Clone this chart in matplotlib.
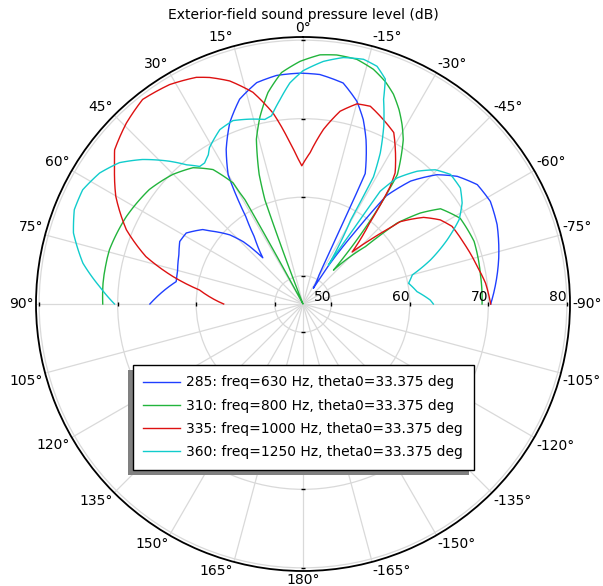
import numpy as np
import matplotlib
matplotlib.use("Agg")
import matplotlib.pyplot as plt
from matplotlib.patches import Rectangle
from matplotlib.transforms import IdentityTransform

# radial range of the plot (dB)
r_min, r_max = 46.4, 80.4
r_ticks = [50, 60, 70, 80]

# 285: freq=630 Hz
theta_630 = [90, 80, 75.5, 68.4, 63.1, 58.7, 53.4, 51.9, 46.6, 43.8, 42.8, 41, 36, 33.2, 30.1,
             26.4, 22, 17.2, 11.8, 6.6, 0.7, -4.2, -10.3, -14.9, -18.1, -21, -25.5, -26.3,
             -27.4, -28.6, -33.3, -33.6, -35.8, -37.6, -41.2, -46, -50.4, -55.6, -61.3,
             -67.8, -76.8, -90]
spl_630 = [65.9, 62.8, 62.9, 63.4, 64.0, 63.8, 62.3, 61.5, 59.2, 57.4, 56.4, 54.2, 56.9, 59.7, 65.4,
           68.4, 71.3, 73.7, 75.2, 75.7, 75.8, 75.7, 75.0, 73.1, 71.1, 68.8, 64.8, 56.7,
           52.7, 50.8, 48.8, 52.3, 57.7, 63.8, 67.2, 70.1, 71.9, 73.3, 73.6,
           73.1, 72.0, 70.3]

# 310: freq=800 Hz
theta_800 = [90, 84, 74.4, 63.7, 53.3, 45.2, 38.9, 33.8, 30.0, 29.6, 29.1, 28.8, 28.4, 21.5,
             20.6, 20.1, 18.7, 15.8, 12.9, 9.4, 5.3, 0.7, -3.9, -7.7, -12.4, -16.7, -20.3,
             -23.3, -26.3, -28.9, -31.4, -36.1, -38.5, -41, -42, -45, -47.4, -49.3, -52.2,
             -55.3, -61.4, -69.9, -80.7, -90]
spl_800 = [71.9, 72.0, 72.0, 71.5, 70.8, 69.8, 68.7, 67.0, 64.2, 62.7, 61.6, 55, 46, 46,
           55, 60.5, 63.8, 68.2, 70.9, 73.7, 76.0, 77.3, 78.2, 78.4, 78.3, 77.6, 76.6,
           75.5, 74.0, 72.5, 70.9, 66.8, 61, 54.5, 52.2, 55, 57.2, 62.2, 65.3,
           67.7, 69.2, 69.6, 69.3, 69.2]

# 335: freq=1000 Hz
theta_1000 = [90, 82.3, 78.1, 73.2, 67.2, 60.1, 53.9, 50.7, 44.3, 38.1, 31.3, 25.2, 22.4, 18.2,
              13.3, 8.9, 5.6, 2.4, 0.5, -2.7, -6.7, -10.9, -15.1, -18.8, -23.6, -27.9, -30.9,
              -35.1, -36.6, -39.3, -43.4, -46.3, -48.9, -49.7, -54.3, -58.5, -62.5, -69.3,
              -77.9, -83.5, -90]
spl_1000 = [56.5, 59.7, 63.3, 67.3, 70.8, 73.9, 76.1, 77.4, 78.6, 79.5, 79.1, 78.3, 77.6, 76.3,
            74.1, 71.0, 67.9, 65.2, 64.0, 65.7, 68.8, 71.4, 72.8, 73.0, 72.0, 71.1, 69.3,
            66.8, 65.0, 59.9, 55.5, 58.2, 61.2, 62.6, 65.3, 66.9, 67.8, 68.3,
            69.1, 69.8, 70.3]

# 360: freq=1250 Hz
theta_1250 = [90, 85.1, 79.5, 72.8, 67.6, 62.6, 57.2, 52.4, 48.0, 43.1, 39.9, 36.9, 34.9, 32.4,
              30.9, 25.5, 20.9, 16.1, 11.7, 9.5, 6.4, 3.4, 0, -4.8, -9.3, -13.9, -17.3, -20.1,
              -21.5, -24.4, -27.1, -29.0, -29.6, -33.1, -34.0, -34.4, -36.7, -40.7, -44.6,
              -48.7, -53.6, -57.6, -61.6, -66.0, -70.9, -75.1, -78.9, -83.8, -88.2, -90]
spl_1250 = [70.4, 72.4, 74.9, 77.0, 77.9, 78.0, 77.2, 75.9, 73.9, 71.3, 69.5, 68.3, 68.3, 68.9,
            69.6, 71.0, 71.4, 70.9, 70.4, 70.7, 72.6, 74.6, 76.1, 77.4, 78.2, 78.5, 78.1, 76.9,
            74.4, 71.3, 68.0, 64.9, 58.7, 52.3, 57.9, 63.8, 66.4, 68.7, 70.4,
            71.4, 71.3, 70.4, 69.0, 66.5, 63.6, 60.8, 60.1, 61.0, 62.6, 63.0]

series = [
    (theta_630, spl_630, '#1f3fff', '285: freq=630 Hz, theta0=33.375 deg'),
    (theta_800, spl_800, '#22b43c', '310: freq=800 Hz, theta0=33.375 deg'),
    (theta_1000, spl_1000, '#dd1111', '335: freq=1000 Hz, theta0=33.375 deg'),
    (theta_1250, spl_1250, '#11cccc', '360: freq=1250 Hz, theta0=33.375 deg'),
]

W, H = 603, 586
fig = plt.figure(figsize=(W / 100, H / 100), dpi=100)
cx, cy, rad = 303, 304, 267
ax = fig.add_axes([(cx - rad) / W, (H - cy - rad) / H, 2 * rad / W, 2 * rad / H],
                  projection='polar')
ax.set_theta_zero_location('N')
ax.set_theta_direction(1)
ax.set_rlim(r_min, r_max)

# angle grid every 15 deg, labels -165..180 placed just outside the rim
angles = list(range(0, 360, 15))
ax.set_xticks(np.deg2rad(angles))
ax.set_xticklabels([])
for a in angles:
    s, c = np.sin(np.deg2rad(a)), np.cos(np.deg2rad(a))
    lab = f"{a}°" if a <= 180 else f"{a - 360}°"
    ha = 'center' if abs(s) < 1e-6 else ('left' if s < 0 else 'right')
    va = 'center' if abs(c) < 1e-6 else ('bottom' if c > 0 else 'top')
    ax.annotate(lab, xy=(np.deg2rad(a), r_max), xytext=(-2 * s, 2 * c),
                textcoords='offset pixels', ha=ha, va=va, fontsize=10,
                annotation_clip=False)

ax.set_rgrids(r_ticks)
ax.set_yticklabels([])
ax.grid(color='#d9d9d9', linewidth=0.9)
ax.spines['polar'].set_color('black')
ax.spines['polar'].set_linewidth(1.3)

# radial labels along the right horizontal axis
for v in r_ticks:
    ax.text(np.deg2rad(-90), v, str(v), ha='right', va='bottom', fontsize=10)

# small black tick marks on the four main axes
for a, m in [(0, '_'), (180, '_'), (90, '|'), (-90, '|')]:
    ax.plot([np.deg2rad(a)] * len(r_ticks), r_ticks, linestyle='none', marker=m,
            color='black', markersize=3, markeredgewidth=1, clip_on=False, zorder=3)

handles = []
for th, spl, col, lab in series:
    ln, = ax.plot(np.deg2rad(th), np.clip(spl, r_min, None), color=col, lw=1.0, label=lab)
    ln.get_path()._interpolation_steps = 20  # draw segments as polar arcs
    handles.append(ln)

fig.text(cx / W, 1 - 15 / H, 'Exterior-field sound pressure level (dB)',
         ha='center', va='center', fontsize=10)

leg = fig.legend(handles=handles, loc='upper left', bbox_to_anchor=(133 / W, 1 - 365 / H),
                 bbox_transform=fig.transFigure, fontsize=10, fancybox=False,
                 edgecolor='black', framealpha=1, borderaxespad=0, borderpad=0.75,
                 labelspacing=0.67, handlelength=2.6, handletextpad=0.5)
leg.get_frame().set_linewidth(1.0)
leg.set_zorder(5)

# gray shadow down-left of the legend box
fig.canvas.draw()
bb = leg.get_window_extent()
shadow = Rectangle((bb.x0 - 5, bb.y0 - 5), bb.width, bb.height, transform=IdentityTransform(),
                   facecolor='#808080', edgecolor='none', zorder=4)
fig.add_artist(shadow)

fig.savefig('out.png', dpi=100)
